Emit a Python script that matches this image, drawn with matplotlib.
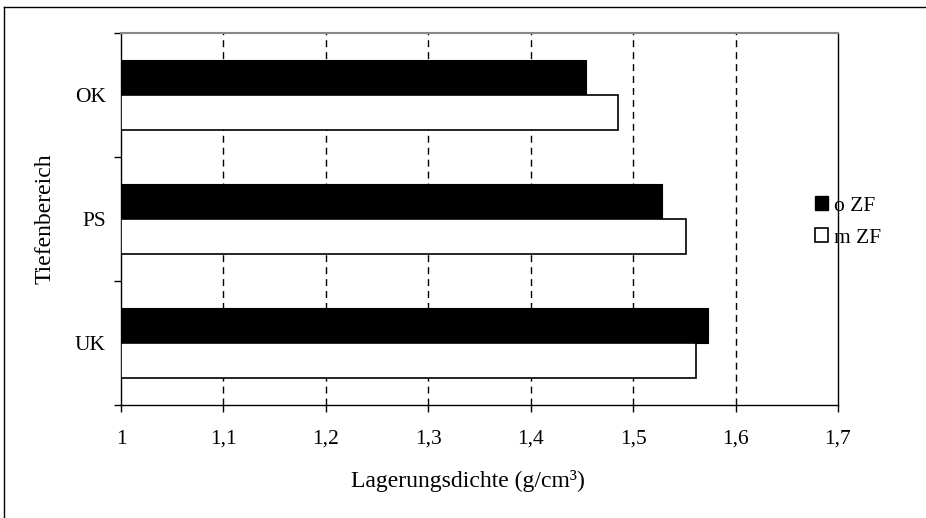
import matplotlib.pyplot as plt
from matplotlib.lines import Line2D
from matplotlib.patches import Patch
import numpy as np

# depth ranges and bulk density values (g/cm3)
categories = ['OK', 'PS', 'UK']
o_zf = [1.454, 1.528, 1.573]
m_zf = [1.485, 1.552, 1.561]
series_names = ['o ZF', 'm ZF']
xticks = [1.0, 1.1, 1.2, 1.3, 1.4, 1.5, 1.6, 1.7]
xtick_labels = ['1', '1,1', '1,2', '1,3', '1,4', '1,5', '1,6', '1,7']

plt.rcParams['font.family'] = ['Liberation Serif', 'DejaVu Serif']

fig = plt.figure(figsize=(9.26, 5.18), dpi=100)
ax = fig.add_axes([121/926, 1 - 405/518, (838-121)/926, (405-33)/518])

y = np.arange(len(categories))
h = 0.28
left = 1.0
ax.barh(y - h/2, np.array(o_zf) - left, height=h, left=left, color='black',
        edgecolor='black', linewidth=0.8, zorder=3)
ax.barh(y + h/2, np.array(m_zf) - left, height=h, left=left, color='white',
        edgecolor='black', linewidth=1.2, zorder=3)

ax.set_xlim(1.0, 1.7)
ax.set_ylim(2.5, -0.5)

# dashed vertical grid
for xv in xticks[1:-1]:
    ax.axvline(xv, color='black', linewidth=1.0, linestyle=(0, (5, 3.6)), zorder=1)

ax.set_xticks(xticks)
ax.set_xticklabels(xtick_labels, fontsize=15.5)
ax.set_yticks([-0.5, 0.5, 1.5, 2.5])
ax.set_yticklabels([])
ax.set_yticks(y, minor=True)
ax.set_yticklabels(categories, minor=True, fontsize=15.5)
ax.tick_params(axis='y', which='minor', length=0, pad=11)
ax.tick_params(axis='x', which='major', direction='out', length=5,
               width=1, color='black', pad=13)
ax.tick_params(axis='y', which='major', direction='out', length=5,
               width=1, color='black')

ax.spines['top'].set_color('#888888')
ax.spines['top'].set_linewidth(1.5)
for s in ['left', 'bottom', 'right']:
    ax.spines[s].set_color('black')
    ax.spines[s].set_linewidth(1.0)

ax.set_xlabel('Lagerungsdichte (g/cm³)', fontsize=17)
ax.xaxis.set_label_coords(0.484, -65/372, transform=ax.transAxes)
ax.set_ylabel('Tiefenbereich', fontsize=17, labelpad=14)

handles = [Patch(facecolor='black', edgecolor='black'),
           Patch(facecolor='white', edgecolor='black', linewidth=1.2)]
fig.legend(handles, series_names, loc='center left',
           bbox_to_anchor=(806/926, 1 - 222/518), frameon=False,
           fontsize=15.5, handlelength=0.6, handleheight=0.6,
           handletextpad=0.3, labelspacing=0.6, borderaxespad=0)

# outer chart frame (left and top edges visible)
fig.add_artist(Line2D([4/926, 4/926], [0, 1 - 7/518], color='black', linewidth=1.0))
fig.add_artist(Line2D([4/926, 1], [1 - 7/518, 1 - 7/518], color='black', linewidth=1.0))

fig.savefig('out.png', dpi=100)
